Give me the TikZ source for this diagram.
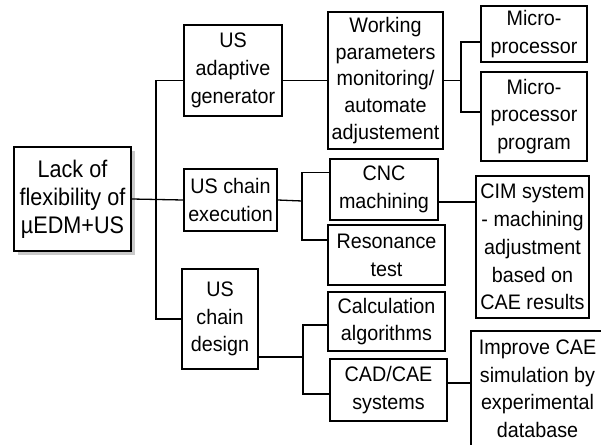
\documentclass[tikz,border=0pt]{standalone}
\usepackage{fontspec}
\setmainfont{Liberation Sans}[FakeStretch=0.94]
\newfontfamily\rootfont{Liberation Sans}[FakeStretch=0.9]
\usepackage{tikz}
\usetikzlibrary{shadows}

\begin{document}
\begin{tikzpicture}[
    x=1pt, y=-1pt,
    probbox/.style={rectangle, draw=black, line width=1.6pt, fill=white,
        align=center, inner sep=0pt,
        font=\fontsize{21}{27.8}\selectfont},
    link/.style={line width=1.3pt, black}
]
    \useasboundingbox (0,0) rectangle (601,444);
    \clip (0,0) rectangle (601,444);

    \node[probbox, minimum width=117pt, minimum height=104pt,
        font=\rootfont\fontsize{24}{28}\selectfont,
        drop shadow={shadow xshift=4pt, shadow yshift=-4pt, fill=black!30, opacity=0.7}]
        (root) at (72.5,199) {Lack of\\flexibility of\\µEDM+US};

    \node[probbox, minimum width=98pt, minimum height=91pt] (usgen) at (233,70.5) {US\\adaptive\\generator};
    \node[probbox, minimum width=93pt, minimum height=62pt] (usexe) at (230.5,200) {US chain\\execution};
    \node[probbox, minimum width=76pt, minimum height=100pt] (usdes) at (220,319) {US\\chain\\design};

    \node[probbox, minimum width=115pt, minimum height=137pt,
        font=\fontsize{21}{26.8}\selectfont] (work) at (385.5,80.5)
        {Working\\parameters\\monitoring/\\automate\\adjustement};
    \node[probbox, minimum width=106pt, minimum height=56pt] (micro) at (534,34) {Micro-\\processor};
    \node[probbox, minimum width=106pt, minimum height=89pt] (microprog) at (534,116.5) {Micro-\\processor\\program};

    \node[probbox, minimum width=108pt, minimum height=61pt] (cnc) at (384,189.5) {CNC\\machining};
    \node[probbox, minimum width=117pt, minimum height=60pt] (reson) at (386.5,255) {Resonance\\test};
    \node[probbox, minimum width=113pt, minimum height=142pt] (cim) at (532.5,247)
        {CIM system\\- machining\\adjustment\\based on\\CAE results};

    \node[probbox, minimum width=117pt, minimum height=59pt] (calc) at (386.5,321.5) {Calculation\\algorithms};
    \node[probbox, minimum width=117pt, minimum height=62pt] (cadcae) at (388.5,390) {CAD/CAE\\systems};
    \node[probbox, minimum width=133pt, minimum height=116pt,
        font=\fontsize{21}{27.5}\selectfont] (improve) at (537.5,389)
        {Improve CAE\\simulation by\\experimental\\database};

    \coordinate (trunk) at (156,201);
    \coordinate (mj) at (461,80.5);
    \coordinate (ej) at (302,201);
    \coordinate (dj) at (303,357);

    \draw[link] (root.east) -- (usexe.west);
    \draw[link] (usgen.west |- work.west) -| (trunk) |- (usdes.west);

    \draw[link] (usgen.east |- work.west) -- (work.west);
    \draw[link] (work.east) -- (mj);
    \draw[link] ([yshift=-8pt]micro.west) -| (mj) |- ([yshift=4.5pt]microprog.west);

    \draw[link] (usexe.east) -- (ej);
    \draw[link] ([yshift=17pt]cnc.west) -| (ej) |- ([yshift=15pt]reson.west);
    \draw[link] ([yshift=-12.5pt]cnc.east) coordinate (c1) -- (c1 -| cim.west);

    \draw[link] ([yshift=-38pt]usdes.east) -- (dj);
    \draw[link] ([yshift=-3.5pt]calc.west) -| (dj) |- ([yshift=-4pt]cadcae.west);
    \draw[link] ([yshift=7pt]cadcae.east) coordinate (c2) -- (c2 -| improve.west);
\end{tikzpicture}
\end{document}
